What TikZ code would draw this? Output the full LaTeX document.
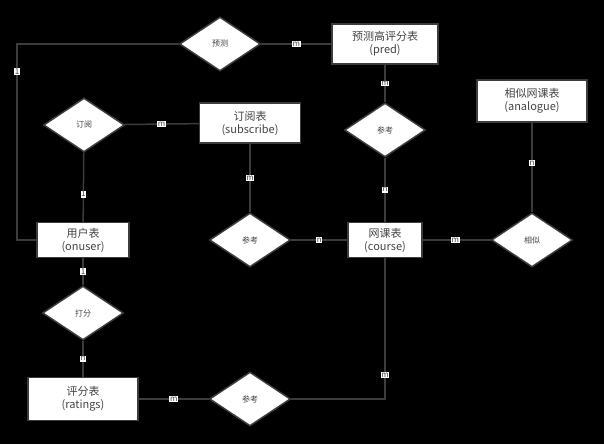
\documentclass[tikz,border=0pt]{standalone}
\usepackage{fontspec}
\setmainfont{Noto Sans CJK SC}
\usetikzlibrary{shapes.geometric}
\definecolor{ln}{HTML}{3C3C3C}
\definecolor{tx}{HTML}{444444}
\begin{document}
\begin{tikzpicture}[x=1pt,y=-1pt,
  ent/.style={draw=ln,line width=1.5pt,fill=white,text=tx,minimum width=#1,minimum height=40pt,inner sep=0pt,align=center,font=\fontsize{11}{13}\selectfont},
  rel/.style={diamond,draw=ln,line width=1.5pt,fill=white,text=tx,minimum width=81pt,minimum height=54pt,aspect=1.5,inner sep=0pt,font=\fontsize{8}{9}\selectfont},
  con/.style={draw=ln,line width=1.5pt},
  lb/.style={fill=white,text=tx,inner sep=0.6pt,font=\fontsize{8}{9}\selectfont}]
\fill[black] (0,0) rectangle (604,444);
\useasboundingbox (0,0) rectangle (604,444);
\node[rel] (yc) at (220,44) {预测};
\node[ent=106pt] (pred) at (385,44) {预测高评分表\\(pred)};
\node[rel] (dy) at (84,125) {订阅};
\node[ent=101pt] (sub) at (250,123) {订阅表\\(subscribe)};
\node[ent=92pt,minimum height=35pt] (user) at (83,240) {用户表\\(onuser)};
\node[rel] (ck1) at (250,240) {参考};
\node[ent=74pt,minimum height=35pt] (course) at (385,240) {网课表\\(course)};
\node[rel] (ck2) at (385,130) {参考};
\node[ent=110pt,minimum height=42pt] (ana) at (532,101) {相似网课表\\(analogue)};
\node[rel] (xs) at (532,240) {相似};
\node[rel] (df) at (83,313) {打分};
\node[ent=110pt,minimum height=43pt] (rat) at (83,399) {评分表\\(ratings)};
\node[rel] (ck3) at (250,399) {参考};
\coordinate (c1) at (17,44);
\coordinate (c2) at (17,240);
\coordinate (c3) at (385,399);
\begin{scope}[on background layer/.style={}]
\end{scope}
\draw[con] (yc) -- node[lb]{m} (pred);
\draw[con] (yc.west) -- (c1) -- node[lb,pos=0.14]{1} (c2) -- (user.west);
\draw[con] (dy) -- node[lb]{m} (sub);
\draw[con] (dy) -- node[lb,pos=0.6]{1} (user);
\draw[con] (sub) -- node[lb,pos=0.5]{m} (ck1);
\draw[con] (ck1) -- node[lb]{n} (course);
\draw[con] (pred) -- node[lb,pos=0.5]{m} (ck2);
\draw[con] (ck2) -- node[lb,pos=0.5]{n} (course);
\draw[con] (course) -- node[lb,pos=0.48]{m} (xs);
\draw[con] (xs) -- node[lb,pos=0.55]{n} (ana);
\draw[con] (user) -- node[lb,pos=0.5]{1} (df);
\draw[con] (df) -- node[lb,pos=0.5]{n} (rat);
\draw[con] (rat) -- node[lb,pos=0.5]{m} (ck3);
\draw[con] (ck3.east) -- (c3) -- node[lb,pos=0.17]{m} (course.south);
\end{tikzpicture}
\end{document}
